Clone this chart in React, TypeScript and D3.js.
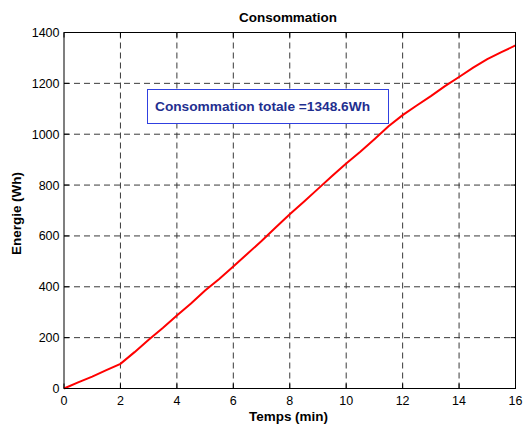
import React from "react";
import * as d3 from "d3";

const timeMin = [0, 0.5, 1, 1.5, 2, 2.5, 3, 3.5, 4, 4.5, 5, 5.5, 6, 6.5, 7, 7.5, 8, 8.5, 9, 9.5, 10, 10.5, 11, 11.5, 12, 12.5, 13, 13.5, 14, 14.5, 15, 15.5, 16];
const energyWh = [0, 24, 47, 72, 97, 143, 192, 238, 287, 334, 385, 431, 480, 530, 580, 633, 685, 734, 785, 836, 885, 931, 980, 1031, 1075, 1113, 1150, 1189, 1225, 1262, 1295, 1323, 1349];
const xTicks = [0, 2, 4, 6, 8, 10, 12, 14, 16];
const yTicks = [0, 200, 400, 600, 800, 1000, 1200, 1400];
const titleText = "Consommation";
const xLabel = "Temps (min)";
const yLabel = "Energie (Wh)";
const annotation = "Consommation totale =1348.6Wh";

export default function App() {
  const W = 525, H = 425;
  const left = 64, right = 515.5, top = 32.5, bottom = 388.5;
  const x = d3.scaleLinear().domain([0, 16]).range([left, right]);
  const y = d3.scaleLinear().domain([0, 1400]).range([bottom, top]);
  const line = d3.line<number>().x((_, i) => x(timeMin[i])).y((d) => y(d));
  const font = "'Liberation Sans', Arial, sans-serif";
  const tk = 5;
  return (
    <svg width={W} height={H} style={{ position: "absolute", left: 0, top: 0, background: "#fff" }} fontFamily={font}>
      <rect x={0} y={0} width={W} height={H} fill="#fff" />
      {/* grid */}
      {xTicks.slice(1, -1).map((t) => (
        <line key={"gx" + t} x1={x(t)} x2={x(t)} y1={top} y2={bottom} stroke="#3a3a3a" strokeWidth={1} strokeDasharray="6,4" />
      ))}
      {yTicks.slice(1, -1).map((t) => (
        <line key={"gy" + t} x1={left} x2={right} y1={y(t)} y2={y(t)} stroke="#3a3a3a" strokeWidth={1} strokeDasharray="6,4" />
      ))}
      {/* ticks */}
      {xTicks.map((t) => (
        <g key={"tx" + t}>
          <line x1={x(t)} x2={x(t)} y1={bottom} y2={bottom - tk} stroke="#000" />
          <line x1={x(t)} x2={x(t)} y1={top} y2={top + tk} stroke="#000" />
          <text x={x(t)} y={404.5} textAnchor="middle" fontSize={12.5} fill="#000">{t}</text>
        </g>
      ))}
      {yTicks.map((t) => (
        <g key={"ty" + t}>
          <line x1={left} x2={left + tk} y1={y(t)} y2={y(t)} stroke="#000" />
          <line x1={right} x2={right - tk} y1={y(t)} y2={y(t)} stroke="#000" />
          <text x={59.5} y={y(t) + 4.5} textAnchor="end" fontSize={12.5} fill="#000">{t}</text>
        </g>
      ))}
      {/* data */}
      <path d={line(energyWh) || ""} fill="none" stroke="#ff0000" strokeWidth={2} />
      {/* annotation */}
      <rect x={147.5} y={89.5} width={241} height={34} fill="#fff" stroke="#3040e0" strokeWidth={1} />
      <text x={155} y={111} fontSize={13.5} fontWeight="bold" fill="#1f2f8f" textLength={215} lengthAdjust="spacingAndGlyphs">{annotation}</text>
      {/* frame */}
      <rect x={left} y={top} width={right - left} height={bottom - top} fill="none" stroke="#000" strokeWidth={1} />
      <text x={288} y={21.5} textAnchor="middle" fontSize={13.5} fontWeight="bold" textLength={98} lengthAdjust="spacingAndGlyphs">{titleText}</text>
      <text x={288.5} y={421} textAnchor="middle" fontSize={13} fontWeight="bold" textLength={79} lengthAdjust="spacingAndGlyphs">{xLabel}</text>
      <text transform={`translate(21,${(top + bottom) / 2 + 3}) rotate(-90)`} textAnchor="middle" fontSize={13.5} fontWeight="bold" textLength={83} lengthAdjust="spacingAndGlyphs">{yLabel}</text>
    </svg>
  );
}
